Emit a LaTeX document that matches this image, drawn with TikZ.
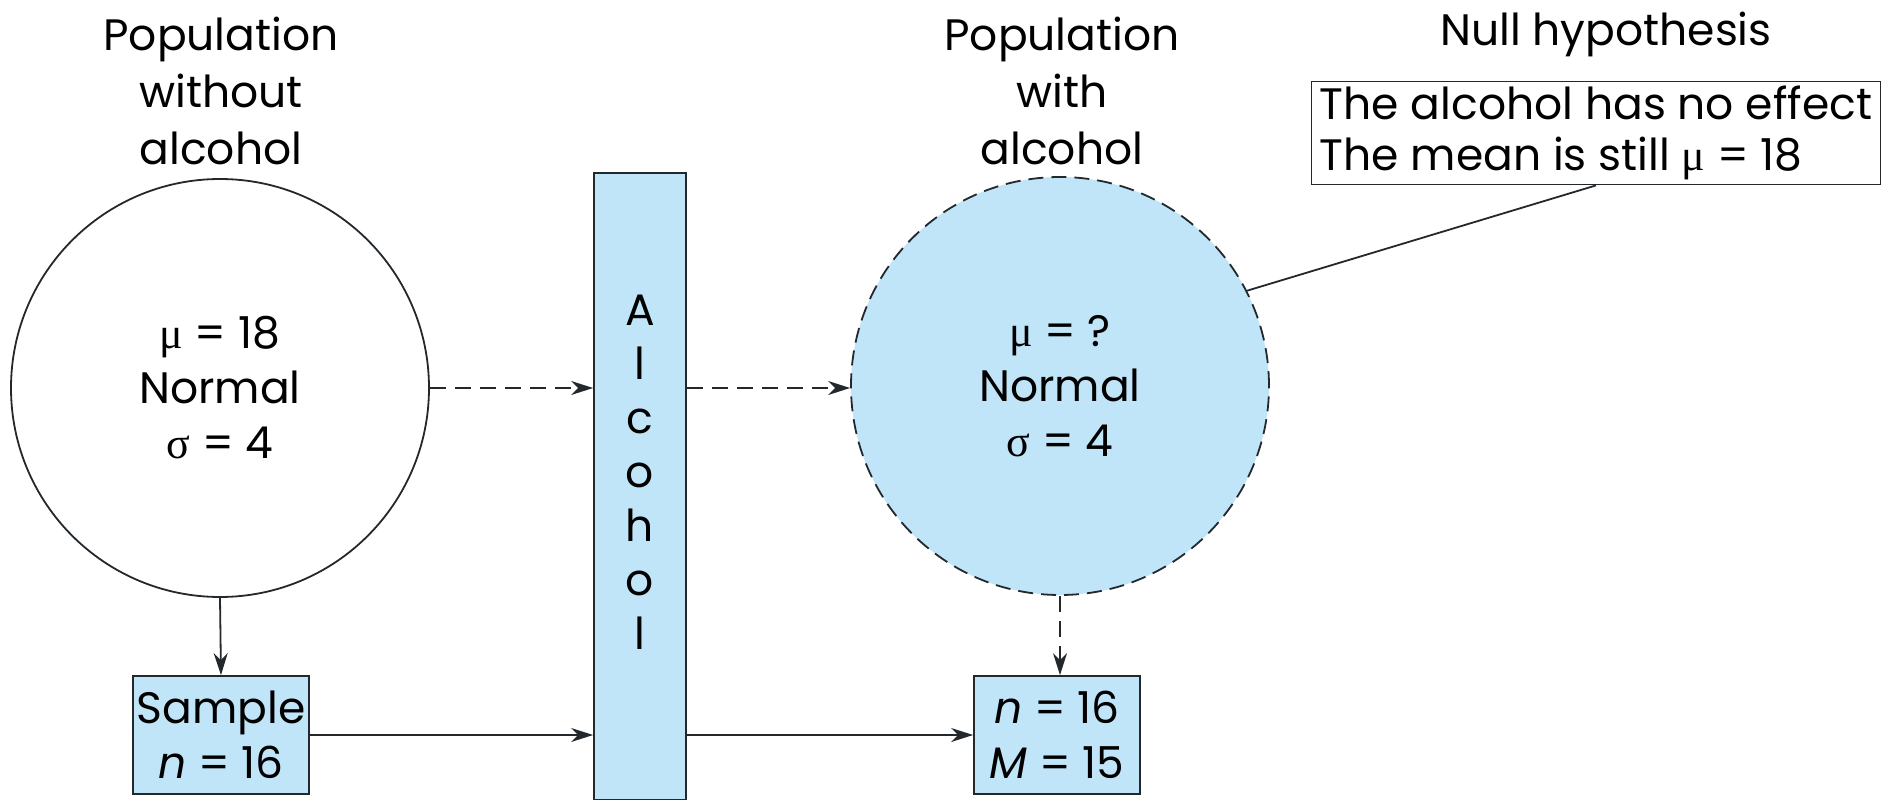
\documentclass[tikz,border=0pt]{standalone}
\usepackage{fontspec}
\setmainfont{Poppins}
\newfontfamily\grk{Liberation Serif}
\newcommand{\gmu}{{\grk μ}}
\newcommand{\gsig}{{\grk σ}}
\usetikzlibrary{arrows.meta,shapes.geometric,calc}
\definecolor{lblue}{RGB}{192,228,248}
\definecolor{edge}{RGB}{35,40,45}
\begin{document}
\begin{tikzpicture}[x=1pt,y=-1pt,
  lbl/.style={font=\fontsize{44}{57}\selectfont, align=center, inner sep=0pt},
  pop/.style={circle, draw=edge, line width=1.8pt, inner sep=0pt, align=center, font=\fontsize{44}{55}\selectfont},
  bluebox/.style={draw=edge, fill=lblue, line width=1.8pt, inner sep=0pt, align=center, font=\fontsize{44}{55}\selectfont},
  arr/.style={line width=1.8pt, edge, -{Stealth[length=22pt,width=14pt]}},
  dsh/.style={dash pattern=on 16pt off 9pt}]
\useasboundingbox (0,0) rectangle (1893,800);
% titles
\node[lbl] (tL) at (221,91) {Population\\without\\alcohol};
\node[lbl] (tR) at (1062,91) {Population\\with\\alcohol};
\node[lbl] (tH) at (1606,34) {Null hypothesis};
% populations
\node[pop, minimum size=418pt] (L) at (220,388) {\gmu{} = 18\\Normal\\\gsig{} = 4};
\node[pop, fill=lblue, dash pattern=on 15pt off 8pt, minimum size=418pt] (R) at (1060,386) {\gmu{} = ?\\Normal\\\gsig{} = 4};
% alcohol bar
\node[bluebox, minimum width=92pt, minimum height=627pt] (A) at (640,486.5) {};
\node[lbl, font=\fontsize{44}{54}\selectfont] (At) at (640,472) {A\\l\\c\\o\\h\\o\\l};
% samples
\node[bluebox, minimum width=176pt, minimum height=118pt] (S) at (221,735) {Sample\\\textit{n} = 16};
\node[bluebox, minimum width=166pt, minimum height=118pt] (N) at (1057,735) {\textit{n} = 16\\\textit{M} = 15};
% null hypothesis
\node[draw=edge, line width=1.8pt, align=left, inner sep=0pt, font=\fontsize{44}{51}\selectfont, minimum width=569pt, minimum height=103pt] (H) at (1596,133) {The alcohol has no effect\\The mean is still \gmu{} = 18};
% connectors
\draw[arr,dsh] (L.east) -- (L.east -| A.west);
\draw[arr,dsh] (A.east |- L.east) -- (R.west |- L.east);
\draw[arr] (L.south) -- (S.north);
\draw[arr,dsh] (R.south) -- (R.south |- N.north);
\draw[arr] (S.east) -- (S.east -| A.west);
\draw[arr] (A.east |- S.east) -- (N.west);
\draw[line width=1.8pt, edge] (H.south) -- (R.27);
\end{tikzpicture}
\end{document}
